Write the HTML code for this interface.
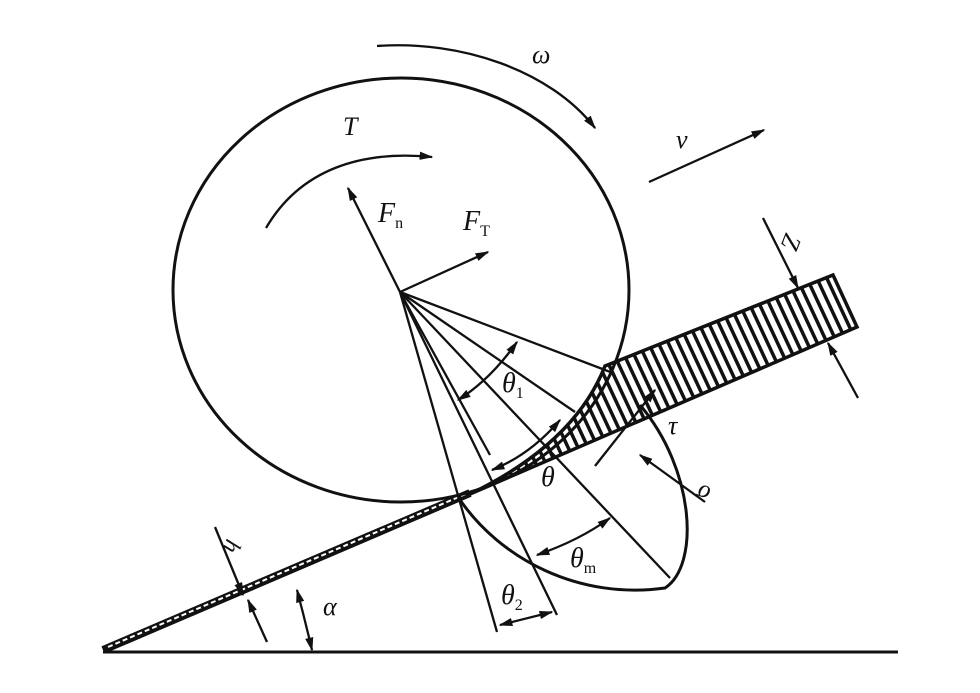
<!DOCTYPE html>
<html><head><meta charset="utf-8"><style>
html,body{margin:0;padding:0;background:#fff;}
svg{display:block;}
text{font-family:"Liberation Serif",serif;font-style:italic;fill:#111;}
</style></head><body>
<svg width="980" height="693" viewBox="0 0 980 693" xmlns="http://www.w3.org/2000/svg">
<defs>
<marker id="a" viewBox="0 0 10 10" refX="9" refY="5" markerWidth="6" markerHeight="6" orient="auto-start-reverse"><path d="M0,2 L10,5 L0,8 z" fill="#111"/></marker>
<pattern id="hatch" width="9" height="9" patternUnits="userSpaceOnUse" patternTransform="rotate(-25)"><rect width="9" height="9" fill="#fff"/><rect width="3.5" height="9" fill="#111"/></pattern>
</defs>
<g stroke="#111" fill="none" stroke-width="2.3">
<line x1="103" y1="652" x2="898" y2="652" stroke-width="3"/>
<line x1="103" y1="650" x2="470" y2="493" stroke-width="8"/>
<line x1="108" y1="647" x2="468" y2="493" stroke="#fff" stroke-width="2" stroke-dasharray="5 3"/>
<path d="M605,366 L833,275 L857,327 L470,494 C520,470 580,430 605,366 Z" fill="url(#hatch)" stroke-width="3.5"/>
<ellipse cx="401" cy="290" rx="228" ry="212" stroke-width="3"/>
<line x1="400" y1="292" x2="613" y2="373"/>
<line x1="400" y1="292" x2="575" y2="412"/>
<line x1="400" y1="292" x2="670" y2="578"/>
<line x1="400" y1="292" x2="557" y2="615"/>
<line x1="400" y1="292" x2="497" y2="632"/>
<line x1="400" y1="292" x2="490" y2="455"/>
<path d="M458,497 C500,560 580,600 665,588 C700,565 695,470 640,405" stroke-width="3"/>
<path d="M377,46 C460,40 550,70 595,128" marker-end="url(#a)"/>
<path d="M266,228 C300,170 360,150 432,157" marker-end="url(#a)"/>
<line x1="649" y1="182" x2="764" y2="130" marker-end="url(#a)"/>
<line x1="400" y1="292" x2="348" y2="188" marker-end="url(#a)"/>
<line x1="400" y1="292" x2="488" y2="252" marker-end="url(#a)"/>
<line x1="763" y1="218" x2="798" y2="288" marker-end="url(#a)"/>
<line x1="858" y1="398" x2="828" y2="343" marker-end="url(#a)"/>
<line x1="215" y1="527" x2="243" y2="595" marker-end="url(#a)"/>
<line x1="267" y1="642" x2="248" y2="600" marker-end="url(#a)"/>
<path d="M297,590 Q305,620 312,650" marker-start="url(#a)" marker-end="url(#a)"/>
<path d="M458,400 Q490,380 517,342" marker-start="url(#a)" marker-end="url(#a)"/>
<path d="M492,470 Q530,455 560,420" marker-start="url(#a)" marker-end="url(#a)"/>
<path d="M537,555 Q580,540 610,518" marker-start="url(#a)" marker-end="url(#a)"/>
<line x1="500" y1="625" x2="552" y2="612" marker-start="url(#a)" marker-end="url(#a)"/>
<line x1="595" y1="466" x2="655" y2="390" marker-end="url(#a)"/>
<line x1="705" y1="502" x2="640" y2="455" marker-end="url(#a)"/>
</g>
<text x="532" y="63" font-size="26">ω</text>
<text x="343" y="135" font-size="26">T</text>
<text x="676" y="148" font-size="26">ν</text>
<text x="378" y="222" font-size="28">F<tspan font-style="normal" font-size="16" dy="6">n</tspan></text>
<text x="463" y="230" font-size="28">F<tspan font-style="normal" font-size="16" dy="6">T</tspan></text>
<text x="0" y="0" font-size="26" transform="translate(786,232) rotate(112)">Z</text>
<text x="502" y="392" font-size="28">θ<tspan font-style="normal" font-size="16" dy="6">1</tspan></text>
<text x="668" y="434" font-size="26">τ</text>
<text x="0" y="0" font-size="26" transform="translate(712,488) rotate(200)">σ</text>
<text x="541" y="486" font-size="28">θ</text>
<text x="570" y="567" font-size="28">θ<tspan font-style="normal" font-size="16" dy="6">m</tspan></text>
<text x="501" y="604" font-size="28">θ<tspan font-style="normal" font-size="16" dy="6">2</tspan></text>
<text x="0" y="0" font-size="24" transform="translate(227,538) rotate(112)">h</text>
<text x="323" y="615" font-size="26">α</text>
</svg>
</body></html>
